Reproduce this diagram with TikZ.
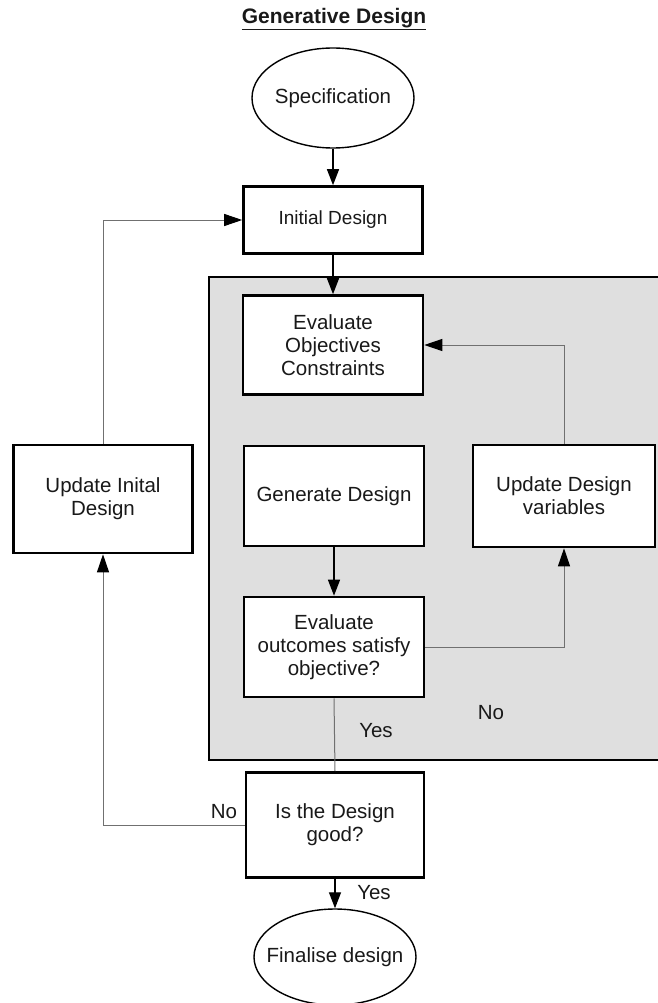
\documentclass[tikz,border=0pt]{standalone}
\usepackage{fontspec}
\setmainfont{Liberation Sans}
\usetikzlibrary{arrows.meta,shapes.geometric}
\definecolor{panelgray}{HTML}{DFDFDF}
\definecolor{linegray}{HTML}{707070}
\tikzset{
  txt/.style={font=\fontsize{20.5}{23}\selectfont, text=black!90},
  box/.style={txt, draw, line width=2.6pt, fill=white, align=center, inner sep=2pt},
  oval/.style={txt, draw, line width=1.4pt, fill=white, ellipse, inner xsep=-12pt, inner ysep=0pt},
  flow/.style={line width=1.3pt, -{Triangle[length=16pt,width=12pt]}},
  back/.style={draw=linegray, line width=1pt, -{Triangle[length=18pt,width=12pt,color=black]}},
}
\begin{document}
\begin{tikzpicture}[x=1pt,y=-1pt]
   \useasboundingbox (0,0) rectangle (657,1003);
   \node[txt, font=\fontsize{21}{23}\selectfont\bfseries] (title) at (334,19) {\underline{Generative Design}};
   % inner loop panel
   \draw[fill=panelgray, line width=2.6pt] (209,277) rectangle (668,760);
   \node[oval, minimum width=162pt, minimum height=100pt] (spec) at (333,98) {Specification};
   \node[box, minimum width=179pt, minimum height=67pt, font=\fontsize{19}{23}\selectfont] (init) at (333,220) {Initial Design};
   \node[box, minimum width=180pt, minimum height=99pt] (evalobj) at (333,345) {Evaluate\\Objectives\\Constraints};
   \node[box, minimum width=180pt, minimum height=100pt] (gen) at (334,496) {Generate Design};
   \node[box, minimum width=182pt, minimum height=102pt] (updvar) at (564,496) {Update Design\\variables};
   \node[box, minimum width=180pt, minimum height=100pt] (evalout) at (334,647) {Evaluate\\outcomes satisfy\\objective?};
   \node[box, minimum width=179pt, minimum height=108pt] (updinit) at (103,499) {Update Inital\\Design};
   \node[box, minimum width=178pt, minimum height=105pt] (good) at (335,825) {Is the Design\\good?};
   \node[oval, minimum width=162pt, minimum height=96pt] (final) at (335,957) {Finalise design};
   \draw[flow] (spec) -- (init);
   \draw[flow] (init) -- (evalobj);
   \draw[flow] (gen) -- (evalout);
   \draw[flow] (good) -- (final);
   \draw[back] (updvar.north) |- (evalobj.east);
   \draw[back] (evalout.east) -| (updvar.south);
   \draw[draw=linegray, line width=1pt] (evalout.south) -- (good.north);
   \draw[back] (good.west) -| (updinit.south);
   \draw[back] (updinit.north) |- (init.west);
   \node[txt] (noinner) at (491,713) {No};
   \node[txt] (yesinner) at (376,731) {Yes};
   \node[txt] (noouter) at (224,812) {No};
   \node[txt] (yesouter) at (374,893) {Yes};
 \end{tikzpicture}
\end{document}
